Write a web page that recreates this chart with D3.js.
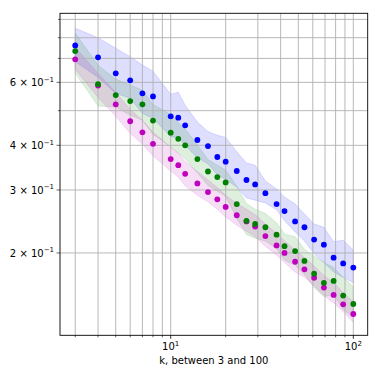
<!DOCTYPE html>
<html>
<head>
<meta charset="utf-8">
<script src="https://cdn.jsdelivr.net/npm/d3@7"></script>
<style>
  body { margin: 0; background: white; }
  text { font-family: "DejaVu Sans", sans-serif; fill: #000; }
</style>
</head>
<body>
<div id="chart"></div>
<script>
// k values on the x axis
var kValues = [3, 4, 5, 6, 7, 8, 10, 11, 12, 14, 16, 18, 20, 23, 26, 29, 33, 38, 42, 48, 54, 61, 69, 78, 88, 100];

// blue series
var blueMean = [0.761, 0.705, 0.636, 0.608, 0.559, 0.548, 0.482, 0.478, 0.455, 0.414, 0.398, 0.371, 0.360, 0.339, 0.320, 0.311, 0.294, 0.274, 0.262, 0.245, 0.236, 0.218, 0.211, 0.194, 0.187, 0.182];
var blueLow = [0.686, 0.620, 0.559, 0.542, 0.491, 0.476, 0.423, 0.420, 0.400, 0.369, 0.355, 0.331, 0.321, 0.306, 0.285, 0.281, 0.276, 0.264, 0.246, 0.229, 0.216, 0.199, 0.188, 0.177, 0.171, 0.165];
var blueHigh = [0.850, 0.800, 0.747, 0.708, 0.671, 0.645, 0.556, 0.563, 0.518, 0.465, 0.437, 0.427, 0.421, 0.384, 0.357, 0.352, 0.318, 0.302, 0.287, 0.274, 0.257, 0.241, 0.236, 0.215, 0.217, 0.204];

// green series
var greenMean = [0.734, 0.593, 0.553, 0.532, 0.521, 0.469, 0.434, 0.417, 0.400, 0.366, 0.338, 0.326, 0.315, 0.274, 0.246, 0.241, 0.236, 0.225, 0.209, 0.2025, 0.190, 0.175, 0.165, 0.167, 0.152, 0.144];
var greenLow = [0.637, 0.515, 0.512, 0.486, 0.470, 0.429, 0.397, 0.381, 0.366, 0.335, 0.309, 0.298, 0.288, 0.250, 0.225, 0.220, 0.216, 0.206, 0.191, 0.185, 0.174, 0.160, 0.151, 0.153, 0.139, 0.132];
var greenHigh = [0.824, 0.670, 0.613, 0.590, 0.570, 0.520, 0.488, 0.463, 0.444, 0.401, 0.365, 0.352, 0.341, 0.308, 0.275, 0.265, 0.258, 0.243, 0.226, 0.222, 0.205, 0.196, 0.188, 0.182, 0.171, 0.161];

// magenta series
var magentaMean = [0.696, 0.588, 0.521, 0.467, 0.435, 0.404, 0.366, 0.352, 0.333, 0.313, 0.296, 0.2825, 0.269, 0.255, 0.245, 0.237, 0.223, 0.210, 0.200, 0.189, 0.180, 0.1705, 0.160, 0.1526, 0.1437, 0.135];
var magentaLow = [0.653, 0.544, 0.482, 0.432, 0.403, 0.374, 0.339, 0.326, 0.308, 0.290, 0.278, 0.265, 0.252, 0.239, 0.230, 0.222, 0.209, 0.197, 0.188, 0.177, 0.171, 0.162, 0.152, 0.145, 0.137, 0.128];
var magentaHigh = [0.752, 0.635, 0.563, 0.504, 0.470, 0.436, 0.395, 0.380, 0.360, 0.338, 0.320, 0.305, 0.290, 0.275, 0.265, 0.256, 0.241, 0.227, 0.216, 0.204, 0.194, 0.184, 0.173, 0.165, 0.155, 0.146];

// ticks
var xMajor = [10, 100];
var xMinor = [3, 4, 5, 6, 7, 8, 9, 20, 30, 40, 50, 60, 70, 80, 90];
var yLabeled = [0.2, 0.3, 0.4, 0.6];
var yMinor = [0.5, 0.7, 0.8, 0.9];
var xLabel = "k, between 3 and 100";

var width = 381, height = 381;
var plotLeft = 60, plotRight = 367.7, plotTop = 13.3, plotBottom = 335.3;

var svg = d3.select("#chart").append("svg")
    .attr("width", width)
    .attr("height", height);

var x = d3.scaleLog().domain([2.476, 119.9]).range([plotLeft, plotRight]);
var y = d3.scaleLog().domain([0.1177, 0.936]).range([plotBottom, plotTop]);

svg.append("defs").append("clipPath").attr("id", "clip")
    .append("rect")
    .attr("x", plotLeft).attr("y", plotTop)
    .attr("width", plotRight - plotLeft).attr("height", plotBottom - plotTop);

var series = [
    {color: "#0000ff", mean: blueMean, low: blueLow, high: blueHigh},
    {color: "#008000", mean: greenMean, low: greenLow, high: greenHigh},
    {color: "#bf00bf", mean: magentaMean, low: magentaLow, high: magentaHigh}
];

var plot = svg.append("g").attr("clip-path", "url(#clip)");

// shaded bands
series.forEach(function(s) {
    var area = d3.area()
        .x(function(d, i) { return x(kValues[i]); })
        .y0(function(d, i) { return y(s.low[i]); })
        .y1(function(d, i) { return y(s.high[i]); });
    plot.append("path")
        .datum(kValues)
        .attr("d", area)
        .attr("fill", s.color)
        .attr("fill-opacity", 0.13)
        .attr("stroke", s.color)
        .attr("stroke-opacity", 0.12)
        .attr("stroke-width", 1);
});

// grid
var allX = xMajor.concat(xMinor);
var allY = yLabeled.concat(yMinor);
plot.selectAll(".gx").data(allX).enter().append("line")
    .attr("x1", function(d) { return x(d); })
    .attr("x2", function(d) { return x(d); })
    .attr("y1", plotTop).attr("y2", plotBottom)
    .attr("stroke", "#b0b0b0").attr("stroke-width", 0.9);
plot.selectAll(".gy").data(allY).enter().append("line")
    .attr("y1", function(d) { return y(d); })
    .attr("y2", function(d) { return y(d); })
    .attr("x1", plotLeft).attr("x2", plotRight)
    .attr("stroke", "#b0b0b0").attr("stroke-width", 0.9);

// points
[series[0], series[2], series[1]].forEach(function(s) {
    plot.selectAll(null).data(kValues).enter().append("circle")
        .attr("cx", function(d) { return x(d); })
        .attr("cy", function(d, i) { return y(s.mean[i]); })
        .attr("r", 2.9)
        .attr("fill", s.color);
});

// frame
svg.append("rect")
    .attr("x", plotLeft).attr("y", plotTop)
    .attr("width", plotRight - plotLeft).attr("height", plotBottom - plotTop)
    .attr("fill", "none").attr("stroke", "#000").attr("stroke-width", 0.9);

// x ticks
svg.selectAll(".xt").data(xMajor).enter().append("line")
    .attr("x1", function(d) { return x(d); }).attr("x2", function(d) { return x(d); })
    .attr("y1", plotBottom).attr("y2", plotBottom + 3.5)
    .attr("stroke", "#000").attr("stroke-width", 0.8);
svg.selectAll(".xm").data(xMinor).enter().append("line")
    .attr("x1", function(d) { return x(d); }).attr("x2", function(d) { return x(d); })
    .attr("y1", plotBottom).attr("y2", plotBottom + 2)
    .attr("stroke", "#000").attr("stroke-width", 0.6);

var xt = svg.selectAll(".xl").data(xMajor).enter().append("text")
    .attr("x", function(d) { return x(d); })
    .attr("y", 350)
    .attr("text-anchor", "middle")
    .attr("font-size", 10);
xt.append("tspan").text("10");
xt.append("tspan").attr("dy", -4.2).attr("font-size", 7)
    .text(function(d) { return String(Math.round(Math.log10(d))); });

svg.append("text")
    .attr("x", (plotLeft + plotRight) / 2)
    .attr("y", 364)
    .attr("text-anchor", "middle")
    .attr("font-size", 10)
    .text(xLabel);

// y ticks
svg.selectAll(".yt").data(yLabeled).enter().append("line")
    .attr("y1", function(d) { return y(d); }).attr("y2", function(d) { return y(d); })
    .attr("x1", plotLeft - 3.5).attr("x2", plotLeft)
    .attr("stroke", "#000").attr("stroke-width", 0.6);
svg.selectAll(".ym").data(yMinor).enter().append("line")
    .attr("y1", function(d) { return y(d); }).attr("y2", function(d) { return y(d); })
    .attr("x1", plotLeft - 2).attr("x2", plotLeft)
    .attr("stroke", "#000").attr("stroke-width", 0.6);

var yt = svg.selectAll(".yl").data(yLabeled).enter().append("text")
    .attr("x", 54)
    .attr("y", function(d) { return y(d) + 3.6; })
    .attr("text-anchor", "end")
    .attr("font-size", 10);
yt.append("tspan").text(function(d) { return Math.round(d * 10) + " \u00d7 10"; });
yt.append("tspan").attr("dy", -4.2).attr("font-size", 7).text("\u22121");
</script>
</body>
</html>
